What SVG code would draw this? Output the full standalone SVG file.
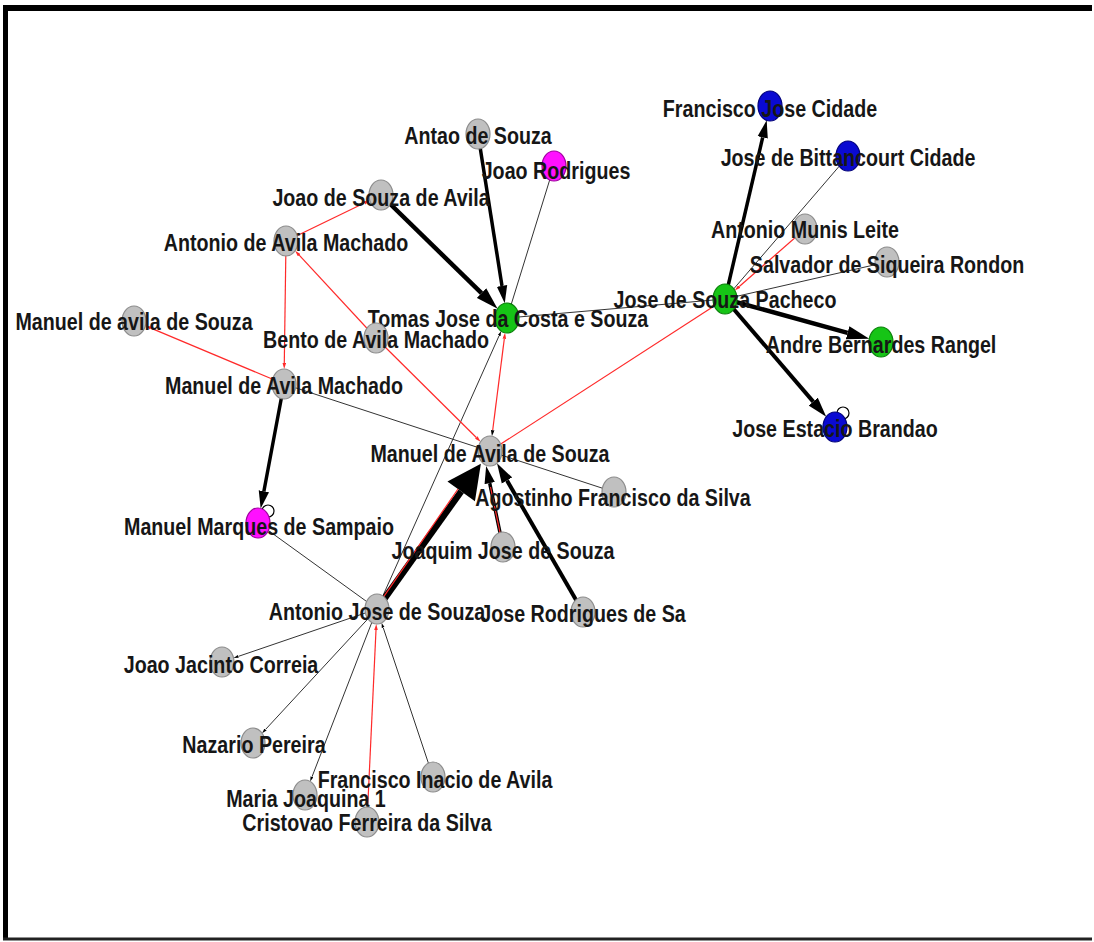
<svg xmlns="http://www.w3.org/2000/svg" width="1094" height="942" viewBox="0 0 1094 942">
<style>
.e{stroke:#333;stroke-width:1;fill:none}
.r{stroke:#ff2a2a;stroke-width:1.2;fill:none}
.k{stroke:#000;fill:none}
.g{fill:#c0c0c0;stroke:#8c8c8c;stroke-width:1.2}
.gr{fill:#16c416;stroke:#0a800a;stroke-width:1.2}
.b{fill:#0a0ad2;stroke:#00007a;stroke-width:1.2}
.m{fill:#ff10ff;stroke:#a000a0;stroke-width:1.2}
.lbl{font-family:"Liberation Sans",Arial,sans-serif;font-weight:bold;font-size:24px;fill:#161616;text-anchor:middle}
</style>
<defs>
<marker id="ak" viewBox="0 0 10 6" markerWidth="5" markerHeight="3.2" refX="0" refY="3" orient="auto"><path d="M0,0 L10,3 L0,6 z" fill="#000"/></marker>
<marker id="ar" viewBox="0 0 10 6" markerWidth="5" markerHeight="3.2" refX="0" refY="3" orient="auto"><path d="M0,0 L10,3 L0,6 z" fill="#ff2a2a"/></marker>
<marker id="ars" viewBox="0 0 10 6" markerWidth="5" markerHeight="3.2" refX="0" refY="3" orient="auto-start-reverse"><path d="M0,0 L10,3 L0,6 z" fill="#ff2a2a"/></marker>
<marker id="abig" viewBox="0 0 10 10" markerWidth="5.5" markerHeight="5.2" refX="0" refY="5" orient="auto"><path d="M0,0 L10,5 L0,10 z" fill="#000"/></marker>
</defs>
<rect width="1094" height="942" fill="#fff"/>
<g id="frame">
<rect x="3" y="5" width="1089" height="6" fill="#000"/>
<rect x="3" y="5" width="5" height="935" fill="#000"/>
<rect x="3" y="937.5" width="1089" height="3" fill="#222"/>
</g>
<g id="connectors">
<path class="e" d="M507,318 L554,166"/>
<path class="e" d="M284,384 L614,492"/>
<path class="e" d="M507,318 L725,299"/>
<path class="e" d="M258,523 L377,609"/>
<path class="e" d="M848,156 L725,299"/>
<path class="e" d="M887,262 L725,299"/>
<path class="e" d="M377,609 L499.1,335.7" marker-end="url(#ak)"/>
<path class="e" d="M377,609 L238.3,656.4" marker-end="url(#ak)"/>
<path class="e" d="M377,609 L265.5,729.5" marker-end="url(#ak)"/>
<path class="e" d="M377,609 L312,776.8" marker-end="url(#ak)"/>
<path class="e" d="M433,777 L383.2,627.6" marker-end="url(#ak)"/>
<path class="r" d="M286,241 L364.4,203" marker-end="url(#ar)"/>
<path class="r" d="M286,241 L284.3,363" marker-end="url(#ar)"/>
<path class="r" d="M376,338 L299.2,255.2" marker-end="url(#ar)"/>
<path class="r" d="M376,338 L476.3,437.5" marker-end="url(#ar)"/>
<path class="r" d="M284,384 L150.9,328.1" marker-end="url(#ar)"/>
<path class="r" d="M725,299 L490,451"/>
<path class="r" d="M504.3,338.8 L492.7,430.2" marker-start="url(#ars)" marker-end="url(#ak)"/>
<path class="r" d="M367,822 L376,630" marker-end="url(#ar)"/>
<path class="r" d="M805,229 L739.3,286.5" marker-end="url(#ar)"/>
<path class="k" stroke-width="3.5" d="M478,134 L502,285.9" marker-end="url(#ak)"/>
<path class="k" stroke-width="4.5" d="M381,195 L481.5,293.1" marker-end="url(#ak)"/>
<path class="k" stroke-width="3.5" d="M284,384 L263.9,491.2" marker-end="url(#ak)"/>
<path class="k" stroke-width="3.5" d="M725,299 L762.7,137.4" marker-end="url(#ak)"/>
<path class="k" stroke-width="4.5" d="M725,299 L847.6,332.8" marker-end="url(#ak)"/>
<path class="k" stroke-width="4" d="M725,299 L813.2,401.6" marker-end="url(#ak)"/>
<path class="k" stroke-width="4" d="M583,612 L507,480.5" marker-end="url(#ak)"/>
<path class="k" stroke-width="3.5" d="M503,547 L489.7,483.1" marker-end="url(#ak)"/>
<path class="r" stroke-width="1.8" d="M503,547 L490.5,487"/>
<path class="k" stroke-width="6.5" d="M377,609 L461.2,491.3" marker-end="url(#abig)"/>
<path class="r" stroke-width="2" d="M375.8,608.1 L458,489"/>
<circle class="k" stroke-width="1.2" cx="268" cy="511" r="6"/>
<circle class="k" stroke-width="1.2" cx="843" cy="413" r="6"/>
</g>
<g id="n-francisco-jose-cidade"><ellipse class="b" cx="770" cy="106" rx="12" ry="15"/><text class="lbl" transform="translate(770 117) scale(0.82 1)">Francisco Jose Cidade</text></g>
<g id="n-jose-de-bittancourt-cidade"><ellipse class="b" cx="848" cy="156" rx="12" ry="15"/><text class="lbl" transform="translate(848 166) scale(0.82 1)">Jose de Bittancourt Cidade</text></g>
<g id="n-antonio-munis-leite"><ellipse class="g" cx="805" cy="229" rx="12" ry="15"/><text class="lbl" transform="translate(805 238) scale(0.82 1)">Antonio Munis Leite</text></g>
<g id="n-salvador-de-siqueira-rondon"><ellipse class="g" cx="887" cy="262" rx="12" ry="15"/><text class="lbl" transform="translate(887 273) scale(0.82 1)">Salvador de Siqueira Rondon</text></g>
<g id="n-jose-de-souza-pacheco"><ellipse class="gr" cx="725" cy="299" rx="12" ry="15"/><text class="lbl" transform="translate(725 308) scale(0.82 1)">Jose de Souza Pacheco</text></g>
<g id="n-andre-bernardes-rangel"><ellipse class="gr" cx="881" cy="342" rx="12" ry="15"/><text class="lbl" transform="translate(881 353) scale(0.82 1)">Andre Bernardes Rangel</text></g>
<g id="n-jose-estacio-brandao"><ellipse class="b" cx="835" cy="427" rx="12" ry="15"/><text class="lbl" transform="translate(835 437) scale(0.82 1)">Jose Estacio Brandao</text></g>
<g id="n-joao-rodrigues"><ellipse class="m" cx="554" cy="166" rx="12" ry="15"/><text class="lbl" transform="translate(556 179) scale(0.82 1)">Joao Rodrigues</text></g>
<g id="n-antao-de-souza"><ellipse class="g" cx="478" cy="134" rx="12" ry="15"/><text class="lbl" transform="translate(478 144) scale(0.82 1)">Antao de Souza</text></g>
<g id="n-joao-de-souza-de-avila"><ellipse class="g" cx="381" cy="195" rx="12" ry="15"/><text class="lbl" transform="translate(381 206) scale(0.82 1)">Joao de Souza de Avila</text></g>
<g id="n-antonio-de-avila-machado"><ellipse class="g" cx="286" cy="241" rx="12" ry="15"/><text class="lbl" transform="translate(286 251) scale(0.82 1)">Antonio de Avila Machado</text></g>
<g id="n-tomas-jose-da-costa-e-souza"><ellipse class="gr" cx="507" cy="318" rx="12" ry="15"/><text class="lbl" transform="translate(508 327) scale(0.82 1)">Tomas Jose da Costa e Souza</text></g>
<g id="n-bento-de-avila-machado"><ellipse class="g" cx="376" cy="338" rx="12" ry="15"/><text class="lbl" transform="translate(376 348) scale(0.82 1)">Bento de Avila Machado</text></g>
<g id="n-manuel-de-avila-de-souza-2"><ellipse class="g" cx="134" cy="321" rx="12" ry="15"/><text class="lbl" transform="translate(134 330) scale(0.82 1)">Manuel de avila de Souza</text></g>
<g id="n-manuel-de-avila-machado"><ellipse class="g" cx="284" cy="384" rx="12" ry="15"/><text class="lbl" transform="translate(284 394) scale(0.82 1)">Manuel de Avila Machado</text></g>
<g id="n-manuel-de-avila-de-souza"><ellipse class="g" cx="490" cy="451" rx="12" ry="15"/><text class="lbl" transform="translate(490 462) scale(0.82 1)">Manuel de Avila de Souza</text></g>
<g id="n-agostinho-francisco-da-silva"><ellipse class="g" cx="614" cy="492" rx="12" ry="15"/><text class="lbl" transform="translate(613 506) scale(0.82 1)">Agostinho Francisco da Silva</text></g>
<g id="n-manuel-marques-de-sampaio"><ellipse class="m" cx="258" cy="523" rx="12" ry="15"/><text class="lbl" transform="translate(259 535) scale(0.82 1)">Manuel Marques de Sampaio</text></g>
<g id="n-joaquim-jose-de-souza"><ellipse class="g" cx="503" cy="547" rx="12" ry="15"/><text class="lbl" transform="translate(503 559) scale(0.82 1)">Joaquim Jose de Souza</text></g>
<g id="n-antonio-jose-de-souza"><ellipse class="g" cx="377" cy="609" rx="12" ry="15"/><text class="lbl" transform="translate(377 620) scale(0.82 1)">Antonio Jose de Souza</text></g>
<g id="n-jose-rodrigues-de-sa"><ellipse class="g" cx="583" cy="612" rx="12" ry="15"/><text class="lbl" transform="translate(583 622) scale(0.82 1)">Jose Rodrigues de Sa</text></g>
<g id="n-joao-jacinto-correia"><ellipse class="g" cx="222" cy="662" rx="12" ry="15"/><text class="lbl" transform="translate(221 673) scale(0.82 1)">Joao Jacinto Correia</text></g>
<g id="n-nazario-pereira"><ellipse class="g" cx="253" cy="743" rx="12" ry="15"/><text class="lbl" transform="translate(254 753) scale(0.82 1)">Nazario Pereira</text></g>
<g id="n-francisco-inacio-de-avila"><ellipse class="g" cx="433" cy="777" rx="12" ry="15"/><text class="lbl" transform="translate(435 788) scale(0.82 1)">Francisco Inacio de Avila</text></g>
<g id="n-maria-joaquina-1"><ellipse class="g" cx="305" cy="795" rx="12" ry="15"/><text class="lbl" transform="translate(306 807) scale(0.82 1)">Maria Joaquina 1</text></g>
<g id="n-cristovao-ferreira-da-silva"><ellipse class="g" cx="367" cy="822" rx="12" ry="15"/><text class="lbl" transform="translate(367 831) scale(0.82 1)">Cristovao Ferreira da Silva</text></g>
</svg>
